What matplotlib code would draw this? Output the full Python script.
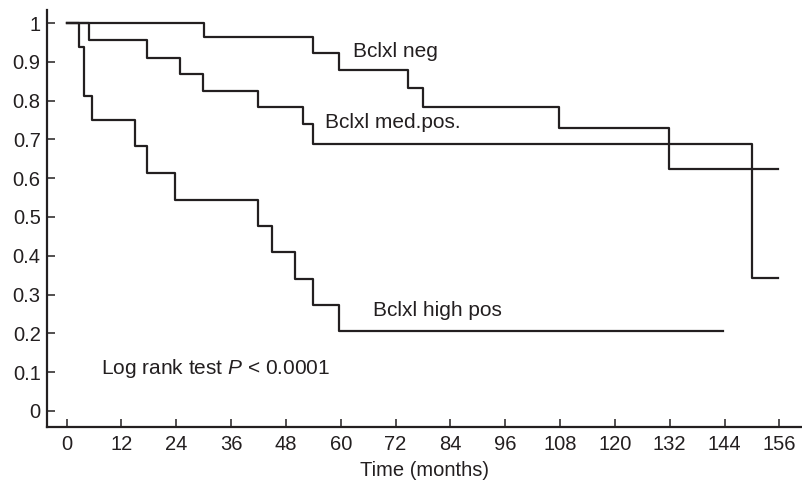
import matplotlib
matplotlib.use("Agg")
import matplotlib.pyplot as plt

# Kaplan-Meier steps (time in months, survival fraction)
neg_t = [0, 30, 54, 59.6, 74.7, 77.9, 107.8, 131.8, 155.7]
neg_s = [1, 0.965, 0.923, 0.880, 0.833, 0.784, 0.730, 0.623, 0.623]

med_t = [0, 4.8, 17.7, 24.8, 29.9, 41.8, 51.8, 54.0, 150.0, 155.7]
med_s = [1, 0.957, 0.911, 0.870, 0.826, 0.783, 0.739, 0.687, 0.343, 0.343]

high_t = [0, 2.6, 3.8, 5.5, 14.9, 17.7, 23.8, 41.8, 45.0, 50.0, 54.0, 59.6, 143.7]
high_s = [1, 0.9375, 0.8125, 0.75, 0.682, 0.614, 0.545, 0.477, 0.409, 0.341, 0.273, 0.205, 0.205]

x_ticks = list(range(0, 157, 12))
y_ticks = [0, 0.1, 0.2, 0.3, 0.4, 0.5, 0.6, 0.7, 0.8, 0.9, 1]
y_labels = ["0", "0.1", "0.2", "0.3", "0.4", "0.5", "0.6", "0.7", "0.8", "0.9", "1"]

ink = "#231f20"
plt.rcParams["font.family"] = ["Liberation Sans", "DejaVu Sans"]
plt.rcParams["mathtext.fontset"] = "custom"
plt.rcParams["mathtext.it"] = "Liberation Sans:italic"
plt.rcParams["mathtext.rm"] = "Liberation Sans"

fig = plt.figure(figsize=(8.03, 4.87), dpi=100)
ax = fig.add_axes([0.0585, 0.1238, 0.9405, 0.8557])

for t, s in [(neg_t, neg_s), (med_t, med_s), (high_t, high_s)]:
    ax.step(t, s, where="post", color=ink, linewidth=1.6)

ax.set_xlim(-4.3, 161)
ax.set_ylim(-0.041, 1.034)
ax.set_xticks(x_ticks)
ax.set_yticks(y_ticks)
ax.set_yticklabels(y_labels)

for side in ["top", "right"]:
    ax.spines[side].set_visible(False)
for side in ["left", "bottom"]:
    ax.spines[side].set_linewidth(1.6)
    ax.spines[side].set_color(ink)

ax.tick_params(direction="in", length=6, width=1.1, color=ink,
               labelsize=14.5, labelcolor=ink)
ax.tick_params(axis="x", pad=6)
ax.tick_params(axis="y", pad=4.5)
ax.set_xlabel("Time (months)", fontsize=14.5, color=ink, labelpad=5)

txt = dict(fontsize=15, color=ink, va="center", ha="left")
ax.text(62.7, 0.927, "Bclxl neg", **txt)
ax.text(56.5, 0.743, "Bclxl med.pos.", **txt)
ax.text(67.0, 0.258, "Bclxl high pos", **txt)
ax.text(7.6, 0.108, r"Log rank test $\it{P}$ < 0.0001", **txt)

fig.savefig("out.png", dpi=100)
